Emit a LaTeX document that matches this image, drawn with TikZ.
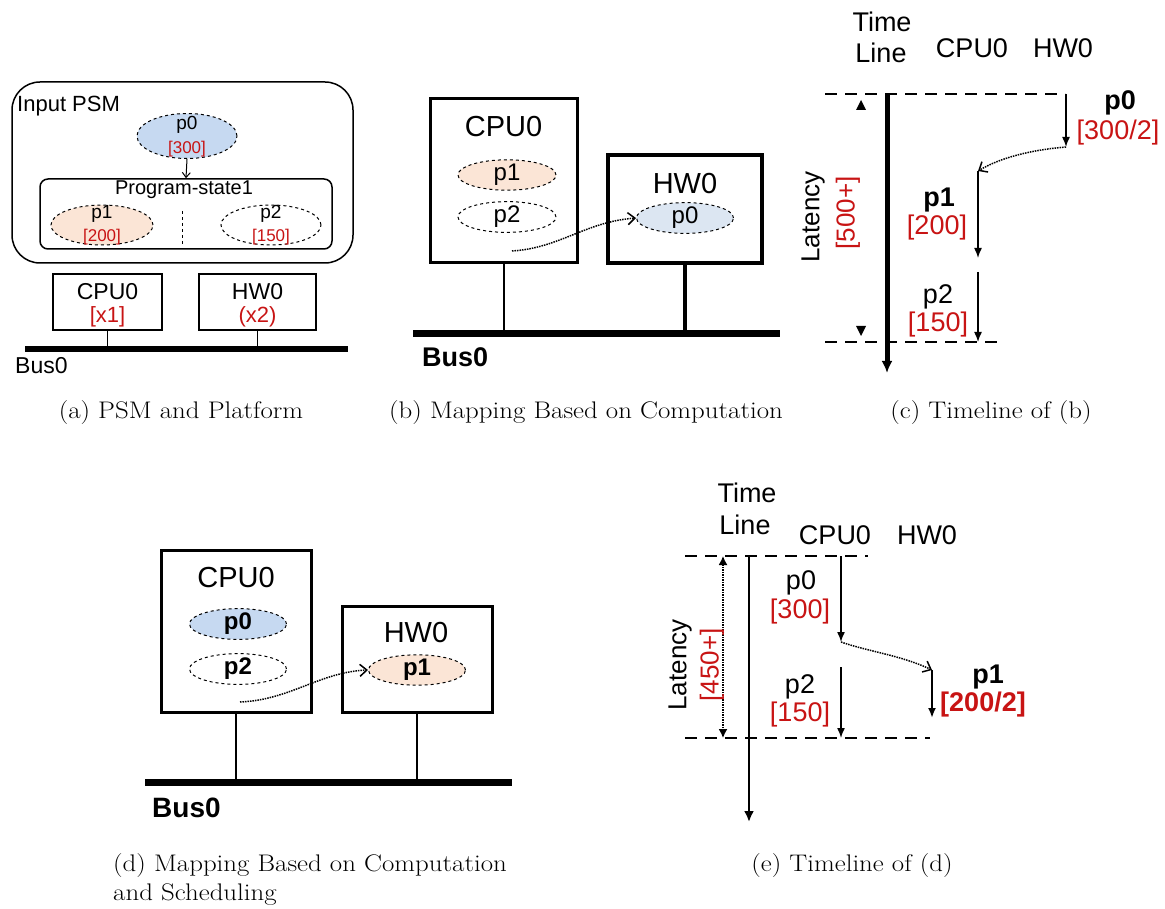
\documentclass[tikz,border=0pt]{standalone}
\usepackage{fontspec}
\setmainfont{Latin Modern Roman}
\newfontfamily\lsans{Liberation Sans}
\newfontfamily\capfont{Latin Modern Roman}[FakeStretch=1.12]
\usetikzlibrary{arrows.meta,shapes.geometric}
\newcommand{\myfs}[1]{\fontsize{#1}{#1}\selectfont}
\definecolor{redt}{RGB}{200,20,20}
\definecolor{blueA}{RGB}{198,217,241}
\definecolor{blueB}{RGB}{220,230,242}
\definecolor{orng}{RGB}{251,229,214}
\begin{document}
\begin{tikzpicture}[x=1pt,y=-1pt,
  txt/.style={font={\lsans\myfs{#1}}, inner sep=0},
  rtxt/.style={txt=#1, text=redt},
  btxt/.style={font={\lsans\bfseries\myfs{#1}}, inner sep=0},
  proc/.style={ellipse, draw, dashed, inner sep=0, line width=1},
  hwbox/.style={draw, inner sep=0},
  captxt/.style={font={\capfont\myfs{24}}, inner sep=0},
  tl/.style={line width=1.5, -{Latex[length=10pt,width=8pt]}},
  dotarr/.style={densely dotted, line width=1.5, -{Straight Barb[length=7pt,width=12pt]}},
  dashline/.style={dash pattern=on 12pt off 8pt, line width=1.5},
  bus/.style={line width=7}]
\useasboundingbox (0,0) rectangle (1165,909);

% ---------------- (a)
\node[hwbox, rounded corners=28pt, line width=1.5, minimum width=341, minimum height=181] (psm) at (182.5,172.5) {};
\node[txt=22, anchor=west] (psmlbl) at (17,106) {Input PSM};
\node[proc, fill=blueA, minimum width=100, minimum height=45] (a0) at (187,136) {};
\node[txt=19] (a0t) at (187,125) {p0};
\node[rtxt=17] (a0c) at (187,149) {[300]};
\node[hwbox, rounded corners=8pt, line width=1.5, minimum width=292, minimum height=70] (ps) at (186,214) {};
\draw[line width=1, -{Straight Barb[length=5pt,width=8pt]}] (a0.south) -- (ps.north);
\node[txt=20] (pslbl) at (184,190) {Program-state1};
\node[proc, fill=orng, minimum width=102, minimum height=40] (a1) at (102,225) {};
\node[txt=19] (a1t) at (102,214) {p1};
\node[rtxt=17] (a1c) at (102,237) {[200]};
\node[proc, fill=white, minimum width=100, minimum height=40] (a2) at (271,225) {};
\node[txt=19] (a2t) at (271,214) {p2};
\node[rtxt=17] (a2c) at (271,237) {[150]};
\coordinate (sepT) at (182,211);
\coordinate (sepB) at (182,245);
\draw[dashed, line width=1] (sepT) -- (sepB);
\node[hwbox, line width=1.5, minimum width=109, minimum height=56] (acpu) at (107.5,302) {};
\node[txt=23] (acput) at (107.5,292) {CPU0};
\node[rtxt=22] (acpuc) at (107.5,317) {[x1]};
\node[hwbox, line width=1.5, minimum width=117, minimum height=56] (ahw) at (257.5,302) {};
\node[txt=23] (ahwt) at (257.5,292) {HW0};
\node[rtxt=22] (ahwc) at (257.5,317) {(x2)};
\coordinate (abusL) at (25,349);
\coordinate (abusR) at (348,349);
\draw[line width=1.5] (acpu.south) -- (acpu.south |- abusL);
\draw[line width=1.5] (ahw.south) -- (ahw.south |- abusL);
\draw[line width=6] (abusL) -- (abusR);
\node[txt=23, anchor=west] (abust) at (15,366) {Bus0};
\node[captxt] (capa) at (181,413) {(a) PSM and Platform};

% ---------------- (b)
\node[hwbox, line width=3, minimum width=147, minimum height=164] (bcpu) at (503.5,181) {};
\node[txt=29] (bcput) at (503.5,127) {CPU0};
\node[proc, fill=orng, minimum width=98, minimum height=27, txt=24] (b1) at (507,175) {p1};
\node[proc, fill=white, minimum width=98, minimum height=28, txt=24] (b2) at (507,217) {p2};
\node[hwbox, line width=4, minimum width=154, minimum height=108] (bhw) at (685,209) {};
\node[txt=29] (bhwt) at (685,184) {HW0};
\node[proc, fill=blueB, minimum width=97, minimum height=27, txt=24] (b0) at (685,218) {p0};
\coordinate (bs) at (512,251);
\draw[dotarr] (bs) .. controls (560,248) and (585,222) .. (b0.west);
\coordinate (bbusL) at (413,334);
\coordinate (bbusR) at (780,334);
\draw[line width=2] (bcpu.south) -- (bcpu.south |- bbusL);
\draw[line width=4] (bhw.south) -- (bhw.south |- bbusL);
\draw[bus] (bbusL) -- (bbusR);
\node[btxt=27, anchor=west] (bbust) at (422,357) {Bus0};
\node[captxt] (capb) at (586,413) {(b) Mapping Based on Computation};

% ---------------- (c)
\node[txt=27] (cT) at (882,22) {Time};
\node[txt=27] (cL) at (881,53) {Line};
\node[txt=27] (cC) at (972,48) {CPU0};
\node[txt=27] (cH) at (1063,48) {HW0};
\coordinate (ctL) at (825,94); \coordinate (ctR) at (1065,94);
\coordinate (cbL) at (825,342); \coordinate (cbR) at (1003,342);
\draw[dashline] (ctL) -- (ctR);
\draw[dashline] (cbL) -- (cbR);
\coordinate (cm0) at (887,94); \coordinate (cm1) at (887,373);
\draw[line width=5, -{Latex[length=12pt,width=11pt]}] (cm0) -- (cm1);
\fill (856,110) -- (866,110) -- (861,100) -- cycle;
\fill (856,326) -- (866,326) -- (861,336) -- cycle;
\node[txt=26, rotate=90] (clat) at (813,217) {Latency};
\node[rtxt=26, rotate=90] (clatv) at (848,213) {[500+]};
\coordinate (c00) at (1066,94); \coordinate (c01) at (1066,147);
\draw[tl] (c00) -- (c01);
\node[btxt=27] (c0t) at (1120,103) {p0};
\node[rtxt=27] (c0c) at (1118,133) {[300/2]};
\coordinate (c10) at (978,171); \coordinate (c11) at (978,258);
\draw[dotarr] (c01) .. controls (1030,150) and (1000,158) .. (c10);
\draw[tl] (c10) -- (c11);
\node[btxt=27] (c1t) at (939,200) {p1};
\node[rtxt=27] (c1c) at (937,228) {[200]};
\coordinate (c20) at (978,272); \coordinate (c21) at (978,342);
\draw[tl] (c20) -- (c21);
\node[txt=27] (c2t) at (938,297) {p2};
\node[rtxt=27] (c2c) at (938,325) {[150]};
\node[captxt] (capc) at (991,413) {(c) Timeline of (b)};

% ---------------- (d)
\node[hwbox, line width=3, minimum width=150, minimum height=162] (dcpu) at (236,631) {};
\node[txt=29] (dcput) at (236,578) {CPU0};
\node[proc, fill=blueA, minimum width=97, minimum height=27, btxt=24] (d0) at (238,624) {p0};
\node[proc, fill=white, minimum width=97, minimum height=28, btxt=24] (d2) at (238,669) {p2};
\node[hwbox, line width=3, minimum width=150, minimum height=106] (dhw) at (417,659) {};
\node[txt=29] (dhwt) at (416,633) {HW0};
\node[proc, fill=orng, minimum width=97, minimum height=30, btxt=24] (d1) at (417,670) {p1};
\coordinate (ds) at (240,702);
\draw[dotarr] (ds) .. controls (290,700) and (320,672) .. (d1.west);
\coordinate (dbusL) at (145,782);
\coordinate (dbusR) at (512,782);
\draw[line width=2] (dcpu.south) -- (dcpu.south |- dbusL);
\draw[line width=2] (dhw.south) -- (dhw.south |- dbusL);
\draw[bus] (dbusL) -- (dbusR);
\node[btxt=28, anchor=west] (dbust) at (152,808) {Bus0};
\node[captxt, anchor=west] (capd1) at (113,866) {(d) Mapping Based on Computation};
\node[captxt, anchor=west] (capd2) at (113,895) {and Scheduling};

% ---------------- (e)
\node[txt=27] (eT) at (747,493) {Time};
\node[txt=27] (eL) at (745,525) {Line};
\node[txt=27] (eC) at (835,535) {CPU0};
\node[txt=27] (eH) at (927,535) {HW0};
\coordinate (etL) at (685,556); \coordinate (etR) at (868,556);
\coordinate (ebL) at (685,738); \coordinate (ebR) at (930,738);
\draw[dashline] (etL) -- (etR);
\draw[dashline] (ebL) -- (ebR);
\coordinate (em0) at (749,556); \coordinate (em1) at (749,822);
\draw[line width=2.5, -{Latex[length=11pt,width=10pt]}] (em0) -- (em1);
\coordinate (el0) at (723,556); \coordinate (el1) at (723,738);
\draw[densely dotted, line width=1.5, {Latex[length=9pt,width=9pt]}-{Latex[length=9pt,width=9pt]}] (el0) -- (el1);
\node[txt=26, rotate=90] (elat) at (680,665) {Latency};
\node[rtxt=26, rotate=90] (elatv) at (712,665) {[450+]};
\coordinate (e00) at (841,556); \coordinate (e01) at (841,642);
\draw[tl] (e00) -- (e01);
\node[txt=27] (e0t) at (801,583) {p0};
\node[rtxt=27] (e0c) at (800,612) {[300]};
\coordinate (e10) at (932,670); \coordinate (e11) at (932,718);
\draw[dotarr] (e01) .. controls (870,652) and (900,655) .. (e10);
\draw[tl, line width=2] (e10) -- (e11);
\node[btxt=27] (e1t) at (988,677) {p1};
\node[rtxt=27, font={\lsans\bfseries\myfs{27}}] (e1c) at (983,705) {[200/2]};
\coordinate (e20) at (841,667); \coordinate (e21) at (841,738);
\draw[tl] (e20) -- (e21);
\node[txt=27] (e2t) at (800,687) {p2};
\node[rtxt=27] (e2c) at (800,715) {[150]};
\node[captxt] (cape) at (852,866) {(e) Timeline of (d)};
\end{tikzpicture}
\end{document}
